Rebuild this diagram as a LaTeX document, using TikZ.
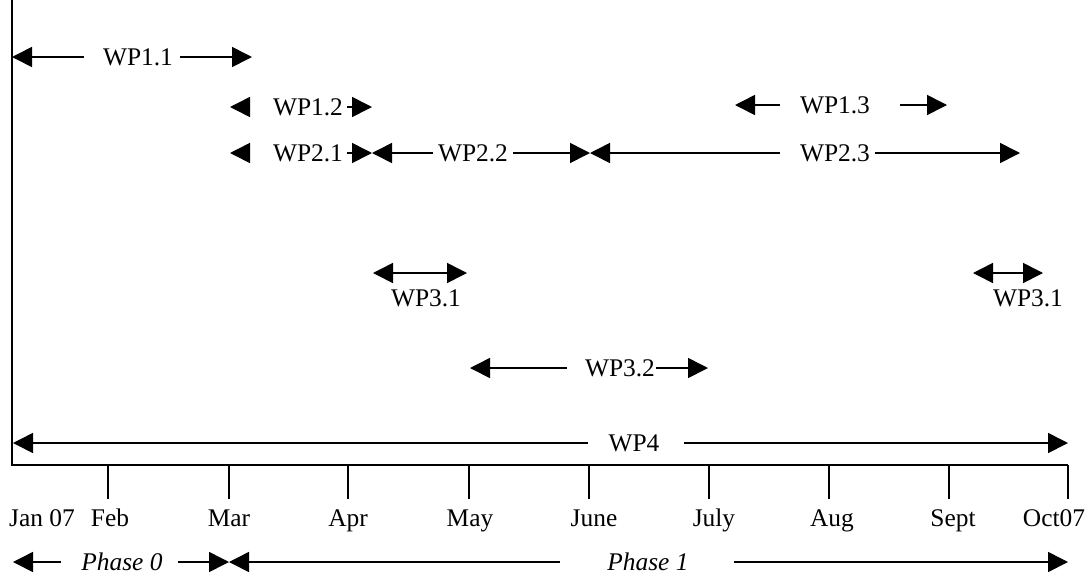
\documentclass[tikz,border=0pt]{standalone}
\usepackage{fontspec}
\setmainfont{Liberation Serif}
\usetikzlibrary{arrows.meta, positioning}
\tikzstyle{axis} = [line width=1pt]
\tikzstyle{bar} = [line width=0.8pt, -{Triangle[length=10pt, width=10pt]}]
\tikzstyle{twoway} = [line width=0.8pt, {Triangle[length=10pt, width=10pt]}-{Triangle[length=10pt, width=10pt]}]
\tikzstyle{wp} = [inner xsep=0, inner ysep=0, text height=8.4pt, text depth=0pt, font=\fontsize{12.7}{15}\selectfont]
\tikzstyle{month} = [anchor=base, inner sep=0, font=\fontsize{12.7}{15}\selectfont]

\begin{document}
\begin{tikzpicture}[x=0.5pt, y=-0.5pt]
				\useasboundingbox (0, 0) rectangle (1091, 574);

				% axes
				\coordinate (Top) at (12, 0);
				\coordinate (Origin) at (12, 465);
				\coordinate (End) at (1068, 465);
				\draw [axis] (Top) -- (Origin) -- (End);

				% month ticks
				\coordinate (Feb) at (108, 465);
				\coordinate (Mar) at (229, 465);
				\coordinate (Apr) at (348, 465);
				\coordinate (May) at (469, 465);
				\coordinate (Jun) at (589, 465);
				\coordinate (Jul) at (709, 465);
				\coordinate (Aug) at (829, 465);
				\coordinate (Sep) at (949, 465);
				\draw [axis] (Feb) -- ++(0, 34);
				\draw [axis] (Mar) -- ++(0, 34);
				\draw [axis] (Apr) -- ++(0, 34);
				\draw [axis] (May) -- ++(0, 34);
				\draw [axis] (Jun) -- ++(0, 34);
				\draw [axis] (Jul) -- ++(0, 34);
				\draw [axis] (Aug) -- ++(0, 34);
				\draw [axis] (Sep) -- ++(0, 34);
				\draw [axis] (End) -- ++(0, 34);

				% month labels
				\node (JanText) [month] at (42, 526) {Jan 07};
				\node (FebText) [month] at (110, 526) {Feb};
				\node (MarText) [month] at (229, 526) {Mar};
				\node (AprText) [month] at (348, 526) {Apr};
				\node (MayText) [month] at (470, 526) {May};
				\node (JunText) [month] at (594, 526) {June};
				\node (JulText) [month] at (714, 526) {July};
				\node (AugText) [month] at (832, 526) {Aug};
				\node (SepText) [month] at (953, 526) {Sept};
				\node (OctText) [month] at (1054, 526) {Oct07};

				% WP1.1
				\node (WP11) [wp] at (138, 57) {WP1.1};
				\coordinate (WP11L) at (12, 57);
				\coordinate (WP11R) at (252, 57);
				\draw [bar, shorten <=9.5pt] (WP11) -- (WP11L);
				\draw [bar, shorten <=3.5pt] (WP11) -- (WP11R);

				% WP1.2
				\node (WP12) [wp] at (308, 107) {WP1.2};
				\coordinate (WP12L) at (230, 107);
				\coordinate (WP12R) at (372, 107);
				\draw [bar, shorten <=12.5pt] (WP12) -- (WP12L);
				\draw [bar, shorten <=2pt] (WP12) -- (WP12R);

				% WP1.3
				\node (WP13) [wp] at (835, 105) {WP1.3};
				\coordinate (WP13L) at (735, 105);
				\coordinate (WP13R) at (947, 105);
				\draw [bar, shorten <=10pt] (WP13) -- (WP13L);
				\draw [bar, shorten <=15pt] (WP13) -- (WP13R);

				% WP2.1
				\node (WP21) [wp] at (308, 153) {WP2.1};
				\coordinate (WP21L) at (230, 153);
				\coordinate (WP21R) at (372, 153);
				\draw [bar, shorten <=12.5pt] (WP21) -- (WP21L);
				\draw [bar, shorten <=2pt] (WP21) -- (WP21R);

				% WP2.2
				\node (WP22) [wp] at (473, 153) {WP2.2};
				\coordinate (WP22R) at (590, 153);
				\draw [bar, shorten <=2.5pt] (WP22) -- (WP21R);
				\draw [bar, shorten <=2.5pt] (WP22) -- (WP22R);

				% WP2.3
				\node (WP23) [wp] at (835, 153) {WP2.3};
				\coordinate (WP23R) at (1020, 153);
				\draw [bar, shorten <=10pt] (WP23) -- (WP22R);
				\draw [bar, shorten <=2.5pt] (WP23) -- (WP23R);

				% WP3.1, first slot
				\coordinate (WP31aL) at (373, 273);
				\coordinate (WP31aR) at (467, 273);
				\draw [twoway] (WP31aL) -- (WP31aR);
				\node (WP31a) [wp] at (426, 298) {WP3.1};

				% WP3.1, second slot
				\coordinate (WP31bL) at (973, 273);
				\coordinate (WP31bR) at (1043, 273);
				\draw [twoway] (WP31bL) -- (WP31bR);
				\node (WP31b) [wp] at (1028, 298) {WP3.1};

				% WP3.2
				\node (WP32) [wp] at (620, 368) {WP3.2};
				\coordinate (WP32L) at (470, 368);
				\coordinate (WP32R) at (708, 368);
				\draw [bar, shorten <=9pt] (WP32) -- (WP32L);
				\draw [bar, shorten <=0.5pt] (WP32) -- (WP32R);

				% WP4
				\node (WP4) [wp] at (634, 443) {WP4};
				\coordinate (WP4L) at (13, 443);
				\coordinate (WP4R) at (1068, 443);
				\draw [bar, shorten <=10pt] (WP4) -- (WP4L);
				\draw [bar, shorten <=12pt] (WP4) -- (WP4R);

				% phases
				\node (Phase0) [wp, font=\fontsize{12.7}{15}\selectfont\itshape] at (122, 562) {Phase 0};
				\coordinate (Phase0L) at (13, 562);
				\coordinate (Phase0R) at (229, 562);
				\draw [bar, shorten <=10pt] (Phase0) -- (Phase0L);
				\draw [bar, shorten <=7.5pt] (Phase0) -- (Phase0R);

				\node (Phase1) [wp, font=\fontsize{12.7}{15}\selectfont\itshape] at (648, 562) {Phase 1};
				\coordinate (Phase1R) at (1068, 562);
				\draw [bar, shorten <=23.5pt] (Phase1) -- (Phase0R);
				\draw [bar, shorten <=22.5pt] (Phase1) -- (Phase1R);
			\end{tikzpicture}
\end{document}
